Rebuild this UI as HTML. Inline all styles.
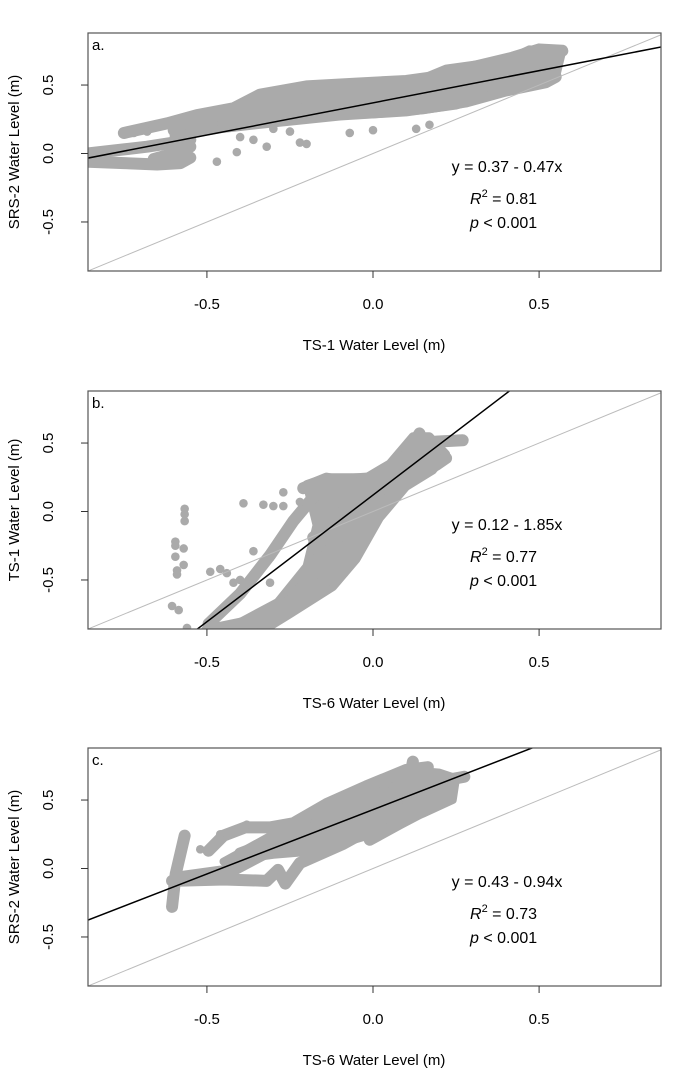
<!DOCTYPE html>
<html><head><meta charset="utf-8">
<style>
body{margin:0;background:#fff;}
svg text{font-family:"Liberation Sans",Arial,sans-serif;fill:#000;}
</style></head>
<body>
<svg id="fig" width="679" height="1073" viewBox="0 0 679 1073" xmlns="http://www.w3.org/2000/svg"></svg>
<script>
// ---- data ----
const panelLabels = ["a.", "b.", "c."];
const xTitles = ["TS-1 Water Level (m)", "TS-6 Water Level (m)", "TS-6 Water Level (m)"];
const yTitles = ["SRS-2 Water Level (m)", "TS-1 Water Level (m)", "SRS-2 Water Level (m)"];
const xTicks = [-0.5, 0.0, 0.5];
const yTicks = [-0.5, 0.0, 0.5];
const tickLabels = ["-0.5", "0.0", "0.5"];
const intercepts = [0.37, 0.12, 0.43];
const slopes = [0.47, 1.85, 0.94];
const eqTexts = ["y = 0.37 - 0.47x", "y = 0.12 - 1.85x", "y = 0.43 - 0.94x"];
const r2Values = ["0.81", "0.77", "0.73"];

const cloudA = [[-0.6,0.2],[-0.53,0.28],[-0.42,0.34],[-0.35,0.43],[-0.1,0.51],[0.13,0.53],[0.22,0.62],[0.4,0.68],[0.47,0.76],[0.57,0.75],[0.55,0.55],[0.45,0.48],[0.35,0.42],[0.25,0.35],[0.1,0.30],[-0.1,0.27],[-0.3,0.22],[-0.45,0.18],[-0.6,0.12]];
const cloudB = [[-0.43,-0.87],[-0.3,-0.7],[-0.2,-0.4],[-0.17,-0.1],[-0.2,0.2],[-0.14,0.25],[-0.02,0.25],[0.05,0.35],[0.12,0.55],[0.17,0.55],[0.22,0.42],[0.18,0.3],[0.1,0.18],[0.02,-0.05],[-0.05,-0.35],[-0.12,-0.55],[-0.25,-0.75],[-0.33,-0.87]];
const cloudC = [[-0.3,0.25],[-0.15,0.4],[-0.02,0.55],[0.1,0.72],[0.2,0.7],[0.25,0.66],[0.24,0.5],[0.15,0.4],[0.0,0.25],[-0.1,0.18],[-0.2,0.12],[-0.3,0.1],[-0.45,0.05]];

const tracksA = [
 [[-0.75,0.15],[-0.62,0.22],[-0.53,0.28],[-0.42,0.33],[-0.34,0.43],[-0.2,0.49],[-0.05,0.51],[0.1,0.53],[0.22,0.57],[0.3,0.63],[0.42,0.70],[0.5,0.76],[0.57,0.75]],
 [[-0.6,0.17],[-0.55,0.25],[-0.4,0.30],[-0.25,0.37],[-0.1,0.40],[0.05,0.44],[0.2,0.48],[0.35,0.55],[0.5,0.62],[0.55,0.66]],
 [[-0.45,0.22],[-0.3,0.27],[-0.15,0.29],[0,0.30],[0.15,0.33],[0.28,0.38],[0.4,0.46],[0.52,0.52],[0.55,0.56]],
 [[-0.2,0.34],[0,0.36],[0.2,0.42],[0.35,0.50],[0.5,0.58]],
 [[-0.86,-0.06],[-0.75,-0.07],[-0.65,-0.08],[-0.58,-0.07],[-0.55,-0.03]],
 [[-0.86,0.0],[-0.75,0.03],[-0.68,0.05],[-0.6,0.08],[-0.55,0.1]],
 [[-0.66,-0.04],[-0.6,0.0],[-0.55,0.05]]
];
const dotsA = [[-0.47,-0.06],[-0.41,0.01],[-0.32,0.05],[-0.22,0.08],[-0.2,0.07],[-0.07,0.15],[0,0.17],[0.13,0.18],[0.17,0.21],[-0.36,0.1],[-0.25,0.16],[-0.4,0.12],[-0.3,0.18],[-0.72,0.15],[-0.68,0.16]];

const tracksB = [
 [[-0.495,-0.82],[-0.4,-0.6],[-0.31,-0.32],[-0.24,-0.07],[-0.14,0.22],[-0.02,0.24]],
 [[-0.42,-0.85],[-0.25,-0.63],[-0.18,-0.49],[-0.11,-0.22],[-0.07,0.02],[0.02,0.22],[0.13,0.43],[0.19,0.51],[0.27,0.52]],
 [[-0.36,-0.82],[-0.2,-0.58],[-0.09,-0.44],[-0.02,-0.17],[0.02,0.05],[0.08,0.19],[0.19,0.34],[0.22,0.39]],
 [[-0.18,-0.19],[-0.09,0.0],[-0.02,0.14],[0.1,0.41],[0.14,0.57]],
 [[-0.21,0.17],[-0.14,0.24],[-0.05,0.2],[0.05,0.3],[0.12,0.45]],
 [[-0.15,-0.35],[-0.08,-0.1],[0.0,0.1],[0.08,0.3]],
 [[-0.5,-0.87],[-0.4,-0.82],[-0.3,-0.75]]
];
const dotsB = [[-0.27,0.14],[-0.39,0.06],[-0.33,0.05],[-0.30,0.04],[-0.27,0.04],[-0.23,-0.04],[-0.22,0.07],[-0.19,0.17],[-0.29,-0.24],[-0.36,-0.29],[-0.31,-0.34],[-0.49,-0.44],[-0.46,-0.42],[-0.44,-0.45],[-0.42,-0.52],[-0.40,-0.5],[-0.31,-0.52],
 [-0.567,0.02],[-0.567,-0.02],[-0.567,-0.07],[-0.595,-0.22],[-0.595,-0.25],[-0.57,-0.27],[-0.595,-0.33],[-0.57,-0.39],[-0.59,-0.43],[-0.59,-0.46],[-0.605,-0.69],[-0.585,-0.72],[-0.56,-0.85]];

const tracksC = [
 [[-0.605,-0.28],[-0.594,-0.04],[-0.567,0.24]],
 [[-0.605,-0.09],[-0.45,-0.08],[-0.32,-0.09],[-0.286,-0.01],[-0.264,-0.11],[-0.22,0.04],[-0.09,0.18],[0.0,0.3],[0.13,0.5],[0.23,0.65],[0.275,0.67]],
 [[-0.57,-0.06],[-0.42,-0.01],[-0.286,0.16],[-0.14,0.35],[0.0,0.45],[0.11,0.65],[0.12,0.78]],
 [[-0.495,0.13],[-0.45,0.24],[-0.385,0.30],[-0.31,0.30],[-0.24,0.33],[-0.14,0.47],[-0.02,0.6],[0.1,0.72],[0.165,0.74]],
 [[-0.01,0.21],[0.08,0.33],[0.19,0.47],[0.23,0.57]],
 [[-0.4,0.11],[-0.3,0.2],[-0.2,0.28],[-0.05,0.4],[0.1,0.55],[0.2,0.6]],
 [[-0.1,0.3],[0.05,0.38],[0.15,0.5]]
];
const dotsC = [[-0.38,0.32],[-0.33,0.31],[-0.52,0.14],[-0.46,0.25]];

const panelClouds = [cloudA, cloudB, cloudC];
const panelTracks = [tracksA, tracksB, tracksC];
const panelDots = [dotsA, dotsB, dotsC];

// ---- layout ----
const NS = "http://www.w3.org/2000/svg";
const svg = document.getElementById("fig");
const L = 88, R = 661, H = 238;
const tops = [33, 391, 748];
const X0 = -0.858, X1 = 0.867, Y0 = -0.858, Y1 = 0.88;
const GREY = "#aaaaaa";
function mk(tag, attrs, parent){const e=document.createElementNS(NS,tag);for(const k in attrs)e.setAttribute(k,attrs[k]);parent.appendChild(e);return e;}

tops.forEach((T, p) => {
  const g = mk("g", {}, svg);
  
  
  const sx = v => L + (v - X0) / (X1 - X0) * (R - L);
  const sy = v => T + H - (v - Y0) / (Y1 - Y0) * H;
  const clipId = "clip" + p;
  const cp = mk("clipPath", {id: clipId}, g);
  mk("rect", {x: L, y: T, width: R - L, height: H}, cp);
  const plot = mk("g", {"clip-path": "url(#" + clipId + ")"}, g);
  
  
  const cl = mk("polygon", {points: panelClouds[p].map(d => sx(d[0]) + "," + sy(d[1])).join(" "), fill: GREY, stroke: GREY, "stroke-width": 8, "stroke-linejoin": "round"}, plot);
  
  
  panelTracks[p].forEach(tr => {
    const pl = mk("polyline", {points: tr.map(d => sx(d[0]) + "," + sy(d[1])).join(" "), fill: "none", stroke: GREY, "stroke-width": 12, "stroke-linecap": "round", "stroke-linejoin": "round"}, plot);
    
    
  });
  panelDots[p].forEach(d => {
    const c = mk("circle", {cx: sx(d[0]), cy: sy(d[1]), r: 4.3, fill: GREY}, plot);
    
    
  });
  const one = mk("line", {x1: sx(-1), y1: sy(-1), x2: sx(1), y2: sy(1), stroke: "#bbbbbb", "stroke-width": 1}, plot);
  
  
  const a = intercepts[p], b = slopes[p];
  const reg = mk("line", {x1: sx(-1), y1: sy(a - b), x2: sx(1), y2: sy(a + b), stroke: "#000", "stroke-width": 1.5}, plot);
  
  
  const box = mk("rect", {x: L, y: T, width: R - L, height: H, fill: "none", stroke: "#555", "stroke-width": 1.2}, g);
  
  
  xTicks.forEach((v, i) => {
    const t = mk("line", {x1: sx(v), y1: T + H, x2: sx(v), y2: T + H + 7, stroke: "#333", "stroke-width": 1}, g);
    
    
    const tx = mk("text", {x: sx(v), y: T + H + 38, "font-size": 15, "text-anchor": "middle"}, g);
    tx.textContent = tickLabels[i];
    
    
  });
  yTicks.forEach((v, i) => {
    const t = mk("line", {x1: L - 7, y1: sy(v), x2: L, y2: sy(v), stroke: "#333", "stroke-width": 1}, g);
    
    
    const tx = mk("text", {x: 53, y: sy(v), "font-size": 15, "text-anchor": "middle", transform: "rotate(-90 53 " + sy(v) + ")"}, g);
    tx.textContent = tickLabels[i];
    
    
  });
  const pl = mk("text", {x: 92, y: T + 17, "font-size": 15}, g);
  pl.textContent = panelLabels[p];
  
  
  const xt = mk("text", {x: 374, y: T + H + 79, "font-size": 15, "text-anchor": "middle"}, g);
  xt.textContent = xTitles[p];
  
  
  const cy = T + H / 2;
  const yt = mk("text", {x: 19, y: cy, "font-size": 15, "text-anchor": "middle", transform: "rotate(-90 19 " + cy + ")"}, g);
  yt.textContent = yTitles[p];
  
  
  const eq = mk("text", {x: 507, y: T + 139, "font-size": 16, "text-anchor": "middle"}, g);
  eq.textContent = eqTexts[p];
  
  
  const r2 = mk("text", {x: 470, y: T + 171, "font-size": 16}, g);
  r2.innerHTML = '<tspan font-style="italic">R</tspan><tspan font-size="11" dy="-7">2</tspan><tspan dy="7"> = ' + r2Values[p] + '</tspan>';
  
  
  const pv = mk("text", {x: 470, y: T + 195, "font-size": 16}, g);
  pv.innerHTML = '<tspan font-style="italic">p</tspan> &lt; 0.001';
  
  
});
</script>
</body></html>
